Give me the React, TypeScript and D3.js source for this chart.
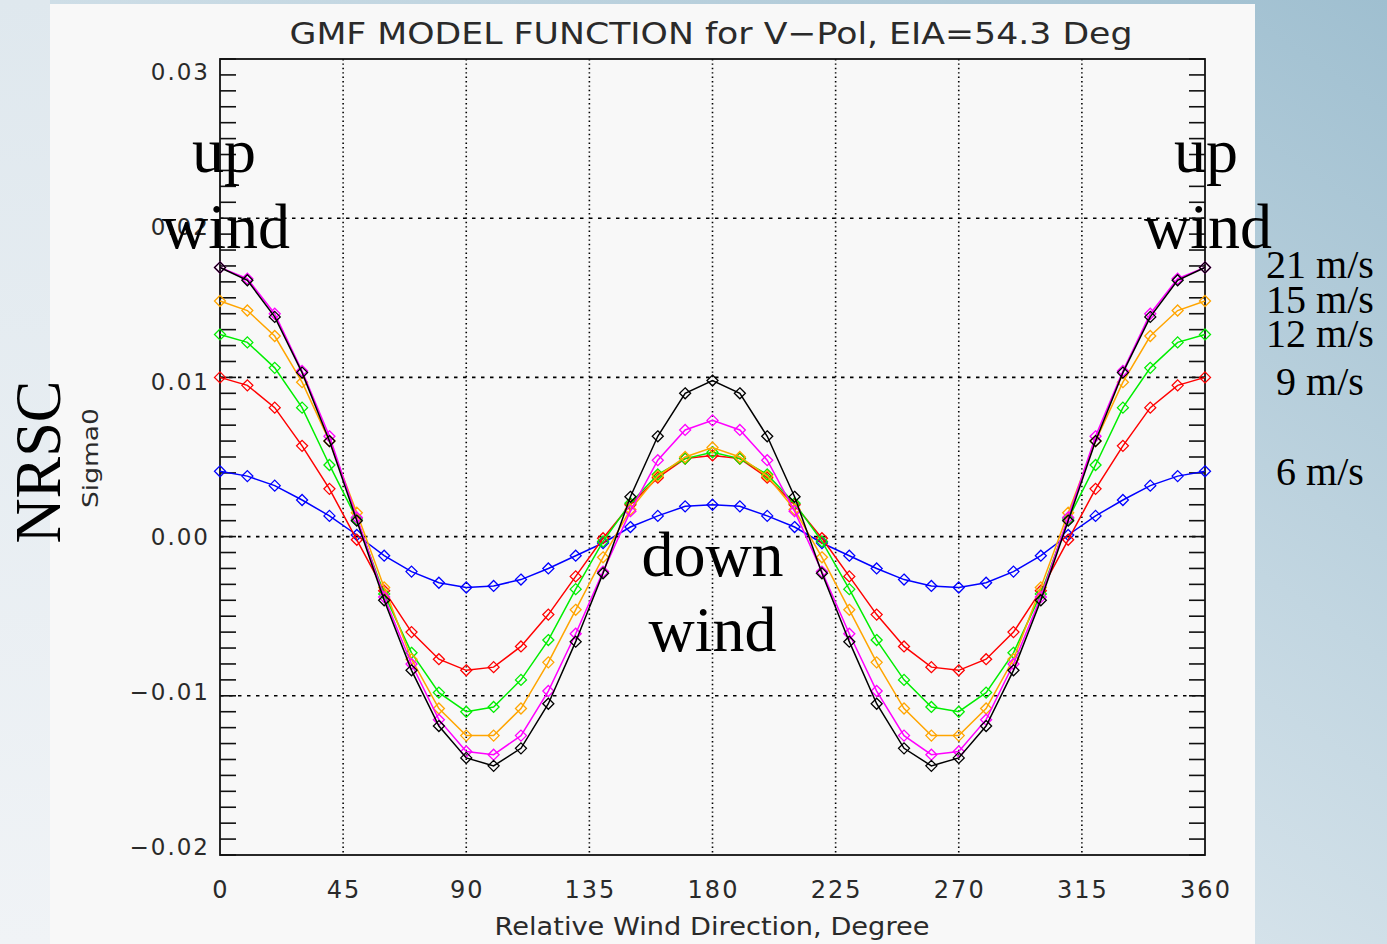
import React, { useEffect } from "react";
import * as d3 from "d3";

const ANGLES = [0, 10, 20, 30, 40, 50, 60, 70, 80, 90, 100, 110, 120, 130, 140, 150, 160, 170, 180,
  190, 200, 210, 220, 230, 240, 250, 260, 270, 280, 290, 300, 310, 320, 330, 340, 350, 360];

const WS_6 = [0.0041, 0.0038, 0.0032, 0.0023, 0.0013, 0.0001, -0.0012, -0.0022, -0.0029, -0.0032, -0.0031, -0.0027, -0.0020, -0.0012, -0.0004, 0.0006, 0.0013, 0.0019, 0.0020,
  0.0019, 0.0013, 0.0006, -0.0004, -0.0012, -0.0020, -0.0027, -0.0031, -0.0032, -0.0029, -0.0022, -0.0012, 0.0001, 0.0013, 0.0023, 0.0032, 0.0038, 0.0041];
const WS_9 = [0.0100, 0.0095, 0.0081, 0.0057, 0.0030, -0.0002, -0.0034, -0.0060, -0.0077, -0.0084, -0.0082, -0.0069, -0.0049, -0.0025, -0.0001, 0.0020, 0.0037, 0.0049, 0.0051,
  0.0049, 0.0037, 0.0020, -0.0001, -0.0025, -0.0049, -0.0069, -0.0082, -0.0084, -0.0077, -0.0060, -0.0034, -0.0002, 0.0030, 0.0057, 0.0081, 0.0095, 0.0100];
const WS_12 = [0.0127, 0.0122, 0.0106, 0.0081, 0.0045, 0.0011, -0.0036, -0.0073, -0.0098, -0.0110, -0.0107, -0.0090, -0.0065, -0.0033, -0.0003, 0.0021, 0.0039, 0.0049, 0.0053,
  0.0049, 0.0039, 0.0021, -0.0003, -0.0033, -0.0065, -0.0090, -0.0107, -0.0110, -0.0098, -0.0073, -0.0036, 0.0011, 0.0045, 0.0081, 0.0106, 0.0122, 0.0127];
const WS_15 = [0.0148, 0.0142, 0.0126, 0.0097, 0.0060, 0.0015, -0.0032, -0.0077, -0.0108, -0.0125, -0.0125, -0.0108, -0.0079, -0.0046, -0.0013, 0.0017, 0.0038, 0.0050, 0.0056,
  0.0050, 0.0038, 0.0017, -0.0013, -0.0046, -0.0079, -0.0108, -0.0125, -0.0125, -0.0108, -0.0077, -0.0032, 0.0015, 0.0060, 0.0097, 0.0126, 0.0142, 0.0148];
const WS_18 = [0.0169, 0.0162, 0.0140, 0.0104, 0.0063, 0.0012, -0.0038, -0.0080, -0.0115, -0.0135, -0.0137, -0.0125, -0.0097, -0.0061, -0.0022, 0.0016, 0.0048, 0.0067, 0.0073,
  0.0067, 0.0048, 0.0016, -0.0022, -0.0061, -0.0097, -0.0125, -0.0137, -0.0135, -0.0115, -0.0080, -0.0038, 0.0012, 0.0063, 0.0104, 0.0140, 0.0162, 0.0169];
const WS_21 = [0.0169, 0.0161, 0.0138, 0.0103, 0.0060, 0.0010, -0.0040, -0.0084, -0.0119, -0.0139, -0.0144, -0.0133, -0.0105, -0.0066, -0.0023, 0.0025, 0.0063, 0.0090, 0.0098,
  0.0090, 0.0063, 0.0025, -0.0023, -0.0066, -0.0105, -0.0133, -0.0144, -0.0139, -0.0119, -0.0084, -0.0040, 0.0010, 0.0060, 0.0103, 0.0138, 0.0161, 0.0169];

const SERIES = [
  { name: "6 m/s", values: WS_6, color: "#0000ff" },
  { name: "9 m/s", values: WS_9, color: "#ff0000" },
  { name: "12 m/s", values: WS_12, color: "#00ee00" },
  { name: "15 m/s", values: WS_15, color: "#ffa500" },
  { name: "18 m/s", values: WS_18, color: "#ff00ff" },
  { name: "21 m/s", values: WS_21, color: "#000000" },
];

const X_TICKS = [0, 45, 90, 135, 180, 225, 270, 315, 360];
const Y_TICKS = [-0.02, -0.01, 0.0, 0.01, 0.02, 0.03];
const Y_TICK_LABELS = ["\u22120.02", "\u22120.01", "0.00", "0.01", "0.02", "0.03"];
const LEGEND_LABELS = ["21 m/s", "15 m/s", "12 m/s", "9 m/s", "6 m/s"];
const LEGEND_BASELINES = [278, 313, 347, 395, 485];

const TITLE = "GMF MODEL FUNCTION for V\u2212Pol, EIA=54.3 Deg";
const X_TITLE = "Relative Wind Direction, Degree";
const Y_TITLE = "Sigma0";

export default function App() {
  useEffect(() => {
    document.body.style.margin = "0";
    document.body.style.overflow = "hidden";
  }, []);

  const W = 1387, H = 944;
  const x = d3.scaleLinear().domain([0, 360]).range([220, 1205]);
  const y = d3.scaleLinear().domain([-0.02, 0.03]).range([855, 59]);
  const y0 = y(0);
  const labelY = (v: number) => y0 + (y(v) - y0) * 0.974;

  const line = d3.line<number>()
    .x((_, i) => x(ANGLES[i]))
    .y((d) => y(d));

  const minor = d3.range(-20, 31).map((k) => k / 1000);
  const diamond = (cx: number, cy: number, r: number) =>
    `M${cx},${cy - r}L${cx + r},${cy}L${cx},${cy + r}L${cx - r},${cy}Z`;

  const axisFont = "'DejaVu Sans', 'Liberation Sans', sans-serif";
  const serif = "'Liberation Serif', 'DejaVu Serif', serif";

  return (
    <svg width={W} height={H} style={{ position: "absolute", left: 0, top: 0, display: "block" }}>
      <defs>
        <linearGradient id="bg" x1="1" y1="0" x2="0" y2="1">
          <stop offset="0" stopColor="#9fbfd0" />
          <stop offset="0.35" stopColor="#c2d6e1" />
          <stop offset="0.75" stopColor="#e7eef3" />
          <stop offset="1" stopColor="#f1f4f7" />
        </linearGradient>
        <linearGradient id="bgL" x1="0" y1="0" x2="0" y2="1">
          <stop offset="0" stopColor="#dfe8ee" />
          <stop offset="1" stopColor="#f0f3f6" />
        </linearGradient>
      </defs>
      <rect x={0} y={0} width={W} height={H} fill="url(#bg)" />
      <rect x={0} y={0} width={50} height={H} fill="url(#bgL)" />
      <rect x={50} y={4} width={1205} height={H - 4} fill="#f8f8f8" />

      {/* gridlines */}
      {X_TICKS.filter((t) => t > 0 && t < 360).map((t) => (
        <line key={"gx" + t} x1={x(t)} x2={x(t)} y1={y(0.03)} y2={y(-0.02)}
          stroke="#000" strokeWidth={1.6} strokeDasharray="1.4,3" />
      ))}
      {Y_TICKS.filter((t) => t > -0.02 && t < 0.03).map((t) => (
        <line key={"gy" + t} x1={x(0)} x2={x(360)} y1={y(t)} y2={y(t)}
          stroke="#000" strokeWidth={1.6} strokeDasharray="3.5,5.5" />
      ))}

      {/* minor ticks on left and right axes */}
      {minor.map((t) => (
        <g key={"mt" + t}>
          <line x1={x(0)} x2={x(0) + 16} y1={y(t)} y2={y(t)} stroke="#111" strokeWidth={1.6} />
          <line x1={x(360)} x2={x(360) - 16} y1={y(t)} y2={y(t)} stroke="#111" strokeWidth={1.6} />
        </g>
      ))}

      {/* frame */}
      <rect x={x(0)} y={y(0.03)} width={x(360) - x(0)} height={y(-0.02) - y(0.03)}
        fill="none" stroke="#111" strokeWidth={1.8} />

      {/* series */}
      {SERIES.map((s) => (
        <g key={s.name}>
          <path d={line(s.values) || ""} fill="none" stroke={s.color} strokeWidth={1.5} />
          {s.values.map((v, i) => (
            <path key={i} d={diamond(x(ANGLES[i]), y(v), 5.5)} fill="none" stroke={s.color} strokeWidth={1.3} />
          ))}
        </g>
      ))}

      {/* tick labels */}
      {Y_TICKS.map((t, i) => (
        <text key={"yl" + t} x={210} y={labelY(t) + 8.5} textAnchor="end"
          fontFamily={axisFont} fontSize={23} letterSpacing={2} fill="#2a2a2a">{Y_TICK_LABELS[i]}</text>
      ))}
      {X_TICKS.map((t) => (
        <text key={"xl" + t} x={x(t) + 1} y={898} textAnchor="middle"
          fontFamily={axisFont} fontSize={24} letterSpacing={2} fill="#2a2a2a">{String(t)}</text>
      ))}

      {/* titles */}
      <text x={711} y={44} textAnchor="middle" fontFamily={axisFont} fontSize={31}
        textLength={843} lengthAdjust="spacingAndGlyphs" fill="#2a2a2a">{TITLE}</text>
      <text x={712} y={935} textAnchor="middle" fontFamily={axisFont} fontSize={25}
        textLength={435} lengthAdjust="spacingAndGlyphs" fill="#2a2a2a">{X_TITLE}</text>
      <text transform="translate(98,458) rotate(-90)" textAnchor="middle" fontFamily={axisFont}
        fontSize={21} textLength={100} lengthAdjust="spacingAndGlyphs" fill="#2a2a2a">{Y_TITLE}</text>
      <text transform="translate(60,462) rotate(-90)" textAnchor="middle" fontFamily={serif}
        fontSize={66} textLength={163} lengthAdjust="spacingAndGlyphs" fill="#000">NRSC</text>

      {/* annotations */}
      <text x={x(0) + 4} y={172} textAnchor="middle" fontFamily={serif} fontSize={64} fill="#000">up</text>
      <text x={x(0) + 6} y={248} textAnchor="middle" fontFamily={serif} fontSize={64} fill="#000">wind</text>
      <text x={x(360) + 1} y={172} textAnchor="middle" fontFamily={serif} fontSize={64} fill="#000">up</text>
      <text x={x(360) + 3} y={248} textAnchor="middle" fontFamily={serif} fontSize={64} fill="#000">wind</text>
      <text x={x(180)} y={576} textAnchor="middle" fontFamily={serif} fontSize={64} fill="#000">down</text>
      <text x={x(180)} y={651} textAnchor="middle" fontFamily={serif} fontSize={64} fill="#000">wind</text>

      {/* speed labels */}
      {LEGEND_LABELS.map((l, i) => (
        <text key={l} x={1320} y={LEGEND_BASELINES[i]} textAnchor="middle" fontFamily={serif}
          fontSize={40} fill="#000">{l}</text>
      ))}
    </svg>
  );
}
